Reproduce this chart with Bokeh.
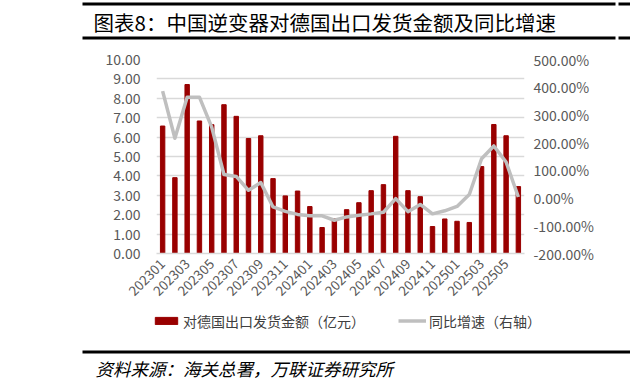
import math
from bokeh.plotting import figure
from bokeh.models import (Range1d, LinearAxis, FixedTicker, PrintfTickFormatter,
                          Legend, LegendItem, Label, BoxAnnotation, ColumnDataSource)
from bokeh.embed import file_html
from bokeh.resources import INLINE

# ---------------- data ----------------
months = ["202301", "202302", "202303", "202304", "202305", "202306",
          "202307", "202308", "202309", "202310", "202311", "202312",
          "202401", "202402", "202403", "202404", "202405", "202406",
          "202407", "202408", "202409", "202410", "202411", "202412",
          "202501", "202502", "202503", "202504", "202505", "202506"]
export_value = [6.57, 3.91, 8.71, 6.83, 6.64, 7.67, 7.07, 5.93, 6.07, 3.86,
                2.97, 3.22, 2.42, 1.34, 1.80, 2.26, 2.62, 3.24, 3.55, 6.04,
                3.24, 2.93, 1.39, 1.78, 1.66, 1.60, 4.48, 6.65, 6.07, 3.45]
yoy_growth = [386, 216, 364, 364, 256, 85, 78, 28, 56, -32,
              -48, -59, -64, -64, -80, -68, -62, -57, -51, -2,
              -49, -23, -57, -46, -30, 13, 142, 188, 130, 4]
left_ticks = [0, 1, 2, 3, 4, 5, 6, 7, 8, 9, 10]
right_ticks = [-200, -100, 0, 100, 200, 300, 400, 500]
label_ticks = list(range(0, len(months), 2))

title_text = "图表8：中国逆变器对德国出口发货金额及同比增速"
source_text = "资料来源：海关总署，万联证券研究所"
bar_label = "对德国出口发货金额（亿元）"
line_label = "同比增速（右轴）"

FONT = "Noto Sans CJK SC"
BAR_COLOR = "#990000"
LINE_COLOR = "#bfbfbf"
GRID_COLOR = "#d9d9d9"
TEXT_COLOR = "#595959"
W = 630
TOTAL_H = 389


def strip(height, y0):
    """A decoration strip whose frame fills the canvas (pixel coordinates, y down)."""
    f = figure(width=W, height=height, output_backend="svg", toolbar_location=None,
               x_range=Range1d(0, W), y_range=Range1d(y0 + height, y0),
               x_axis_location=None, y_axis_location=None,
               min_border=0, min_border_left=0, min_border_right=0,
               min_border_top=0, min_border_bottom=0)
    f.outline_line_color = None
    f.xgrid.visible = False
    f.ygrid.visible = False
    f.border_fill_color = "white"
    return f


def rule(f, left, right, top, bottom):
    f.add_layout(BoxAnnotation(left=left, right=right, top=top, bottom=bottom,
                               fill_color="black", fill_alpha=1, line_color=None))


# ---------------- header ----------------
HEAD_H = 41
header = strip(HEAD_H, 0)
rule(header, 82, 615, 2, 5)
rule(header, 618, 630, 2, 5)
rule(header, 82, 615, 36, 39)
rule(header, 618, 630, 36, 39)
header.add_layout(Label(x=93, y=21.5, text=title_text, text_font=FONT,
                        text_font_size="20.5px", text_color="black",
                        text_baseline="middle", text_align="left"))

# ---------------- chart ----------------
CHART_H = 269
src = ColumnDataSource(dict(x=list(range(len(months))), month=months,
                            val=export_value, yoy=yoy_growth))

p = figure(width=W, height=CHART_H, output_backend="svg", toolbar_location=None,
           x_range=Range1d(-0.5, len(months) - 0.5), y_range=Range1d(0, 10),
           min_border_left=156, min_border_right=106, min_border_top=18,
           min_border_bottom=57)
p.outline_line_color = None
p.background_fill_color = "white"
p.border_fill_color = "white"
p.extra_y_ranges = {"yoy": Range1d(-200, 500)}

bars = p.vbar(x="x", top="val", width=0.36, source=src, color=BAR_COLOR)
line = p.line(x="x", y="yoy", source=src, y_range_name="yoy",
              line_color=LINE_COLOR, line_width=3.5, line_join="round")

xa = p.xaxis[0]
xa.ticker = FixedTicker(ticks=label_ticks)
xa.major_label_overrides = {i: months[i] for i in label_ticks}
xa.major_label_orientation = math.pi / 4
xa.axis_line_color = GRID_COLOR
xa.axis_line_width = 1.5
xa.major_tick_line_color = None
xa.minor_tick_line_color = None
xa.major_tick_out = 0
xa.major_tick_in = 0
xa.major_label_text_font = FONT
xa.major_label_text_font_size = "13.5px"
xa.major_label_text_color = TEXT_COLOR
xa.major_label_standoff = 8

ya = p.yaxis[0]
ya.ticker = FixedTicker(ticks=left_ticks)
ya.formatter = PrintfTickFormatter(format="%.2f")
ya.axis_line_color = None
ya.major_tick_line_color = None
ya.minor_tick_line_color = None
ya.major_tick_out = 0
ya.major_tick_in = 0
ya.major_label_text_font = FONT
ya.major_label_text_font_size = "14px"
ya.major_label_text_color = TEXT_COLOR
ya.major_label_standoff = 16

ra = LinearAxis(y_range_name="yoy", ticker=FixedTicker(ticks=right_ticks),
                formatter=PrintfTickFormatter(format="%.2f%%"))
ra.axis_line_color = None
ra.major_tick_line_color = None
ra.minor_tick_line_color = None
ra.major_tick_out = 0
ra.major_tick_in = 0
ra.major_label_text_font = FONT
ra.major_label_text_font_size = "14px"
ra.major_label_text_color = TEXT_COLOR
ra.major_label_standoff = 9
p.add_layout(ra, "right")

p.xgrid.grid_line_color = None
p.ygrid.ticker = FixedTicker(ticks=left_ticks)
p.ygrid.grid_line_color = GRID_COLOR
p.ygrid.grid_line_width = 1.5

# ---------------- footer (legend + source) ----------------
FOOT_Y0 = HEAD_H + CHART_H
FOOT_H = TOTAL_H - FOOT_Y0
footer = strip(FOOT_H, FOOT_Y0)

# hidden copies of the two series: the legend swatches take their style from them
leg_bar = footer.vbar(x="x", top="val", width=0.36, source=src, color=BAR_COLOR,
                      visible=False)
leg_line = footer.line(x="x", y="yoy", source=src, line_color=LINE_COLOR,
                       line_width=3.5, visible=False)
LEGEND_BOTTOM = 330.5  # page y of the legend's lower edge
legend = Legend(items=[LegendItem(label=bar_label, renderers=[leg_bar]),
                       LegendItem(label=line_label, renderers=[leg_line])],
                location=(152, TOTAL_H - LEGEND_BOTTOM),
                orientation="horizontal",
                padding=0, margin=0, spacing=33, label_standoff=3,
                glyph_width=28, glyph_height=9, label_height=16,
                border_line_color=None, background_fill_alpha=0,
                inactive_fill_alpha=0,
                label_text_font=FONT, label_text_font_size="14px",
                label_text_color="#404040")
footer.add_layout(legend)

rule(footer, 82, 630, 350, 353)
footer.add_layout(Label(x=95, y=368, text=source_text, text_font=FONT,
                        text_font_size="17.5px", text_font_style="italic",
                        text_color="black", text_baseline="middle",
                        text_align="left"))

open("out.html", "w").write(file_html([header, p, footer], INLINE))
